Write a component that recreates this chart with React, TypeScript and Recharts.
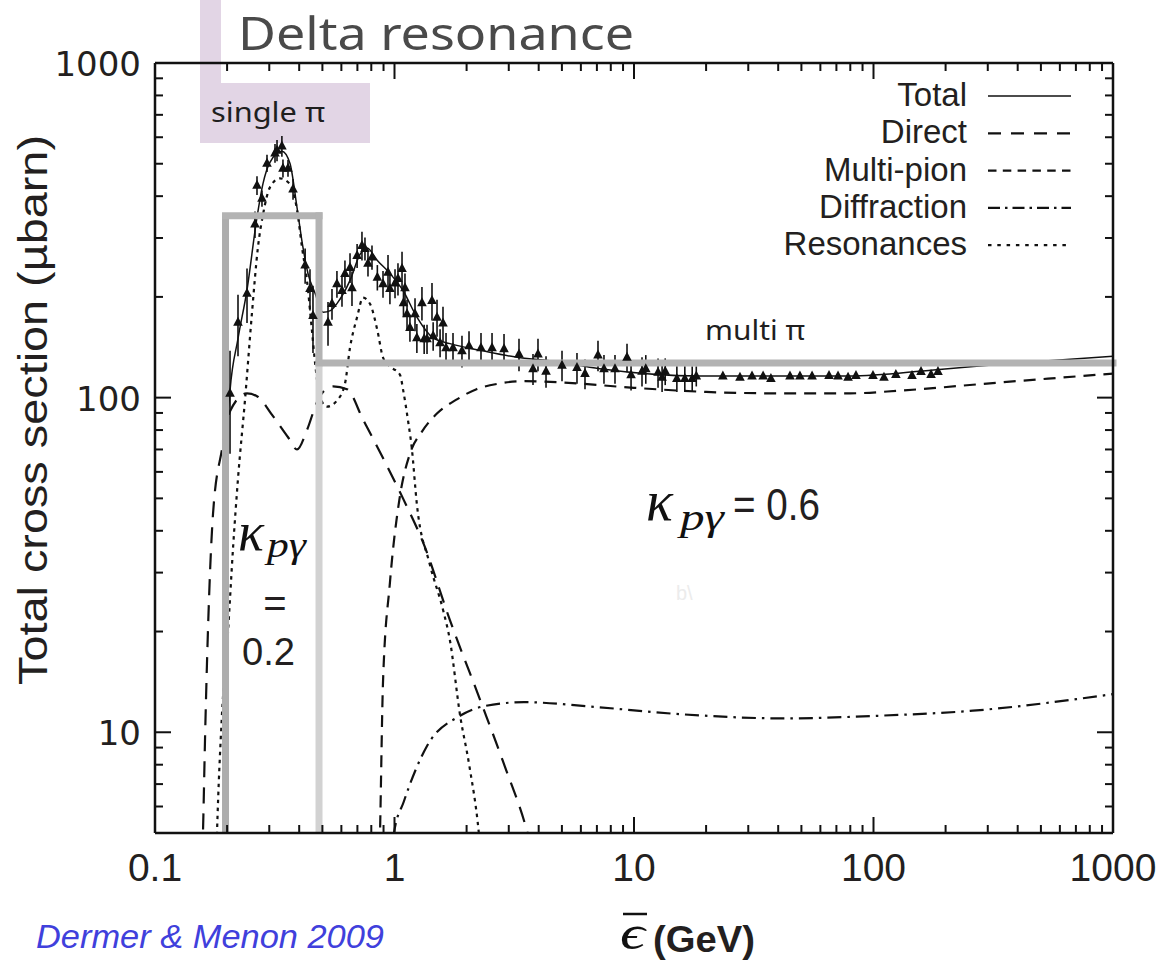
import React from "react";
import {
  ComposedChart,
  Line,
  Scatter,
  ErrorBar,
  XAxis,
  YAxis,
  ReferenceLine,
  Legend,
} from "recharts";

// photon energy in the proton rest frame (GeV) vs cross section (µbarn)
const totalCurve: [number, number][] = [
  [0.198, 70], [0.2057, 105], [0.2221, 150], [0.2422, 210], [0.2666, 346],
  [0.2826, 437], [0.302, 505], [0.3387, 545], [0.3659, 502], [0.3917, 370],
  [0.4148, 281], [0.4353, 235], [0.466, 205], [0.503, 180], [0.54, 182],
  [0.575, 191], [0.652, 224], [0.718, 268], [0.768, 280], [0.848, 257],
  [0.957, 235], [1.085, 209], [1.24, 174], [1.446, 151], [1.705, 145],
  [2.34, 138], [3.25, 132], [4.45, 129], [7.2, 122], [18.9, 116],
  [79.5, 116], [178, 121], [395, 127], [1000, 133],
];

const directCurve: [number, number][] = [
  [0.155, 3], [0.1586, 5], [0.162, 10], [0.1648, 16], [0.1747, 45],
  [0.1904, 70], [0.2057, 91], [0.2422, 103], [0.2666, 101], [0.311, 88],
  [0.36, 76], [0.3917, 70], [0.431, 80], [0.4748, 97], [0.503, 104],
  [0.554, 108], [0.6335, 106], [0.739, 86], [0.8954, 66], [1.085, 50],
  [1.315, 37], [1.705, 21.6], [2.297, 12.3], [2.89, 7.9], [3.54, 5.2], [3.8, 4.3],
];

const multiPionCurve: [number, number][] = [
  [0.855, 3], [0.87, 5], [0.895, 14], [0.957, 28], [1.05, 50], [1.16, 68],
  [1.3, 79], [1.5, 89.5], [1.83, 99], [2.2, 106], [2.7, 110], [3.5, 112],
  [5, 111], [10, 107], [20, 104], [40, 103], [80, 103], [130, 105],
  [337, 111], [1000, 118],
];

const diffractionCurve: [number, number][] = [
  [0.98, 4], [0.995, 5], [1.093, 6.2], [1.367, 9.1], [1.877, 11.2],
  [2.41, 12.0], [3.47, 12.3], [6.88, 11.9], [16.3, 11.3], [42.3, 11.0],
  [104, 11.2], [260, 11.6], [1000, 13.0],
];

const resonanceCurve: [number, number][] = [
  [0.178, 3], [0.1815, 5], [0.19, 11], [0.2018, 20], [0.212, 36],
  [0.222, 57], [0.238, 100], [0.254, 179], [0.269, 281], [0.283, 355],
  [0.302, 425], [0.332, 452], [0.366, 435], [0.392, 363], [0.411, 281],
  [0.431, 224], [0.452, 159], [0.466, 127], [0.489, 100], [0.523, 94],
  [0.575, 98], [0.621, 110], [0.652, 141], [0.698, 174], [0.739, 199],
  [0.792, 190], [0.848, 159], [0.895, 132], [0.957, 124], [1.054, 117],
  [1.09, 104], [1.14, 85], [1.18, 71], [1.24, 48], [1.4, 32], [1.6, 23],
  [1.7, 19], [1.88, 11.2], [2.05, 8], [2.25, 5], [2.35, 3.5],
];

// measured total cross section: energy, value, error
const measured: [number, number, number][] = [
  [0.2057, 103, 35], [0.2221, 168, 35], [0.2422, 205, 38], [0.2615, 330, 30],
  [0.2666, 431, 28], [0.2797, 394, 22], [0.2935, 502, 30], [0.317, 538, 35],
  [0.3232, 549, 40], [0.3387, 565, 40], [0.3422, 485, 30], [0.3592, 485, 28],
  [0.377, 420, 30], [0.4235, 249, 30], [0.4437, 212, 30], [0.4567, 176, 40],
  [0.5277, 168, 25], [0.5483, 191, 20], [0.575, 219, 20], [0.6036, 209, 22],
  [0.621, 235, 22], [0.652, 245, 25], [0.6645, 213, 25], [0.698, 266, 22],
  [0.7314, 285, 28], [0.7528, 279, 22], [0.775, 252, 22], [0.8054, 263, 22],
  [0.848, 229, 20], [0.8954, 219, 20], [0.9395, 237, 30], [0.957, 212, 22],
  [1.005, 220, 22], [1.034, 227, 25], [1.075, 243, 30], [1.106, 213, 22],
  [1.09, 192, 18], [1.128, 178, 18], [1.16, 162, 15], [1.218, 178, 20],
  [1.24, 151, 15], [1.302, 192, 22], [1.33, 150, 15], [1.367, 150, 15],
  [1.434, 195, 25], [1.45, 153, 15], [1.505, 174, 22], [1.55, 146, 14],
  [1.594, 167, 20], [1.641, 141, 15], [1.755, 141, 15], [1.913, 138, 15],
  [2.047, 143, 15], [2.297, 141, 15], [2.554, 141, 15], [2.866, 140, 15],
  [3.31, 135, 15], [3.787, 122, 13], [3.973, 135, 15], [4.292, 120, 13],
  [5.005, 125, 13], [5.78, 123, 13], [6.243, 118, 12], [7.074, 134, 14],
  [7.493, 122, 12], [8.33, 122, 12], [9.35, 132, 13], [9.72, 117, 12],
  [10.8, 120, 12], [11.2, 122, 12], [12.6, 119, 12], [13.1, 115, 11],
  [13.5, 120, 11], [15.1, 114, 10], [16.3, 114, 10], [17.5, 114, 10],
  [18.2, 116, 8], [23.5, 116, 0], [27.7, 115, 0], [31.1, 116, 0],
  [34.6, 116, 0], [37.3, 114, 0], [44.8, 116, 0], [49.3, 116, 0],
  [55.4, 116, 0], [65.2, 116.4, 0], [71.1, 116, 0], [78.3, 115, 0],
  [84.5, 116.4, 0], [99.5, 116.4, 0], [110.6, 115, 0], [124, 117.2, 0],
  [144.8, 116.4, 0], [157.9, 119.6, 0], [173.9, 117.2, 0], [185.9, 119.6, 0],
];

const xMajor = [0.1, 1, 10, 100, 1000];
const xMinor = [
  0.2, 0.3, 0.4, 0.5, 0.6, 0.7, 0.8, 0.9, 2, 3, 4, 5, 6, 7, 8, 9,
  20, 30, 40, 50, 60, 70, 80, 90, 200, 300, 400, 500, 600, 700, 800, 900,
];
const yMajor = [10, 100, 1000];
const yMinor = [
  6, 7, 8, 9, 20, 30, 40, 50, 60, 70, 80, 90, 200, 300, 400, 500, 600, 700, 800, 900,
];

// gray boxes drawn over the plot (energy, cross section)
const deltaBox = { xLo: 0.197, xHi: 0.484, yTop: 349.5 };
const multiLevel = 126.9;

const W = 1159;
const H = 961;
const INK = "#231f20";
const SANS = "'Liberation Sans', Arial, sans-serif";
const SERIF = "'Liberation Serif', 'DejaVu Serif', serif";

const lineStyles: Record<string, { width: number; dash?: string; keyDash?: string }> = {
  Total: { width: 1.5 },
  Direct: { width: 2.2, dash: "16 10", keyDash: "13 10" },
  "Multi-pion": { width: 2.2, dash: "12 8", keyDash: "8.5 6.3" },
  Diffraction: { width: 2.2, dash: "14 6 2.5 6", keyDash: "12 5 2.5 5" },
  Resonances: { width: 2.2, dash: "3.5 4.5", keyDash: "3.5 5.8" },
};
const legendOrder = ["Total", "Direct", "Multi-pion", "Diffraction", "Resonances"];

const toPts = (arr: [number, number][]) => arr.map(([x, y]) => ({ x, y }));
const curves: { name: string; data: { x: number; y: number }[] }[] = [
  { name: "Total", data: toPts(totalCurve) },
  { name: "Direct", data: toPts(directCurve) },
  { name: "Multi-pion", data: toPts(multiPionCurve) },
  { name: "Diffraction", data: toPts(diffractionCurve) },
  { name: "Resonances", data: toPts(resonanceCurve) },
];
const pointData = measured.map(([x, y, err]) => ({ x, y, err }));

const xTicks = [...xMajor, ...xMinor].sort((a, b) => a - b);
const yTicks = [...yMajor, ...yMinor].sort((a, b) => a - b);

function BottomTick(props: any) {
  const { x, y, payload } = props;
  const major = xMajor.includes(payload.value);
  return (
    <g>
      <line x1={x} x2={x} y1={y} y2={y - (major ? 16 : 8)} stroke="#111" strokeWidth={2} />
      {major && (
        <text x={x} y={y + 48} textAnchor="middle" fontSize={39} fontFamily={SANS} fill={INK}>
          {String(payload.value)}
        </text>
      )}
    </g>
  );
}

function TopTick(props: any) {
  const { x, y, payload } = props;
  const major = xMajor.includes(payload.value);
  return <line x1={x} x2={x} y1={y} y2={y + (major ? 16 : 8)} stroke="#111" strokeWidth={2} />;
}

function LeftTick(props: any) {
  const { x, y, payload } = props;
  const major = yMajor.includes(payload.value);
  return (
    <g>
      <line x1={x} x2={x + (major ? 16 : 8)} y1={y} y2={y} stroke="#111" strokeWidth={2} />
      {major && (
        <text x={x - 14} y={y + 13} textAnchor="end" fontSize={34} fontFamily="'DejaVu Sans', sans-serif" fill={INK}>
          {String(payload.value)}
        </text>
      )}
    </g>
  );
}

function RightTick(props: any) {
  const { x, y, payload } = props;
  const major = yMajor.includes(payload.value);
  return <line x1={x} x2={x - (major ? 16 : 8)} y1={y} y2={y} stroke="#111" strokeWidth={2} />;
}

function Triangle(props: any) {
  const { cx, cy } = props;
  if (cx == null || cy == null) return null;
  return <path d={`M${cx},${cy - 5.5} L${cx + 4.8},${cy + 3.5} L${cx - 4.8},${cy + 3.5} Z`} fill="#111" />;
}

function LegendBox(props: any) {
  const names: string[] = (props.payload || [])
    .map((p: any) => p.value)
    .filter((n: string) => lineStyles[n]);
  const ordered = legendOrder.filter((n) => names.includes(n));
  return (
    <svg width={W} height={280} style={{ display: "block" }}>
      {ordered.map((n, i) => {
        const base = 106 + i * 37.3;
        const st = lineStyles[n];
        return (
          <g key={n}>
            <text x={967} y={base} textAnchor="end" fontSize={33} fontFamily={SANS} fill={INK}>
              {n}
            </text>
            <line x1={988} x2={1071} y1={base - 10} y2={base - 10} stroke="#111" strokeWidth={st.width} strokeDasharray={st.keyDash} />
          </g>
        );
      })}
    </svg>
  );
}

const axisLine = { stroke: "#111", strokeWidth: 2.5 };

export default function App() {
  return (
    <div style={{ position: "absolute", left: 0, top: 0, width: W, height: H, background: "#fff", overflow: "hidden" }}>
      {/* lavender tag behind the plot */}
      <div style={{ position: "absolute", left: 200, top: 0, width: 21, height: 83, background: "#e2d5e5" }} />
      <div style={{ position: "absolute", left: 200, top: 83, width: 170, height: 60, background: "#e2d5e5" }} />

      <div style={{ position: "absolute", left: 0, top: 0 }}>
        <ComposedChart width={W} height={H} margin={{ top: 62, right: 45, bottom: 127, left: 154 }}>
          <XAxis
            xAxisId="bottom"
            dataKey="x"
            type="number"
            scale="log"
            domain={[0.1, 1000]}
            allowDataOverflow
            ticks={xTicks}
            interval={0}
            height={1}
            tickSize={0}
            tickMargin={0}
            tickLine={false}
            tick={BottomTick}
            axisLine={axisLine}
          />
          <XAxis
            xAxisId="top"
            orientation="top"
            dataKey="x"
            type="number"
            scale="log"
            domain={[0.1, 1000]}
            allowDataOverflow
            ticks={xTicks}
            interval={0}
            height={1}
            tickSize={0}
            tickMargin={0}
            tickLine={false}
            tick={TopTick}
            axisLine={axisLine}
          />
          <YAxis
            yAxisId="left"
            dataKey="y"
            type="number"
            scale="log"
            domain={[5, 1000]}
            allowDataOverflow
            ticks={yTicks}
            interval={0}
            width={1}
            tickSize={0}
            tickMargin={0}
            tickLine={false}
            tick={LeftTick}
            axisLine={axisLine}
          />
          <YAxis
            yAxisId="right"
            orientation="right"
            dataKey="y"
            type="number"
            scale="log"
            domain={[5, 1000]}
            allowDataOverflow
            ticks={yTicks}
            interval={0}
            width={1}
            tickSize={0}
            tickMargin={0}
            tickLine={false}
            tick={RightTick}
            axisLine={axisLine}
          />

          <Scatter
            xAxisId="bottom"
            yAxisId="left"
            name="data"
            data={pointData}
            dataKey="y"
            legendType="none"
            shape={Triangle}
            isAnimationActive={false}
          >
            <ErrorBar dataKey="err" direction="y" width={0} stroke="#111" strokeWidth={1.6} />
          </Scatter>

          {/* keeps the top and right frame axes tied to the same data */}
          <Line
            xAxisId="top"
            yAxisId="right"
            data={toPts(totalCurve)}
            dataKey="y"
            legendType="none"
            stroke="none"
            dot={false}
            activeDot={false}
            isAnimationActive={false}
          />

          {curves.map((c) => (
            <Line
              key={c.name}
              xAxisId="bottom"
              yAxisId="left"
              name={c.name}
              data={c.data}
              dataKey="y"
              type="monotone"
              stroke="#111"
              strokeWidth={lineStyles[c.name].width}
              strokeDasharray={lineStyles[c.name].dash}
              dot={false}
              activeDot={false}
              isAnimationActive={false}
            />
          ))}

          <ReferenceLine
            xAxisId="bottom"
            yAxisId="left"
            segment={[{ x: deltaBox.xLo, y: 5 }, { x: deltaBox.xLo, y: deltaBox.yTop }]}
            stroke="#adadad"
            strokeWidth={7}
          />
          <ReferenceLine
            xAxisId="bottom"
            yAxisId="left"
            segment={[{ x: deltaBox.xLo, y: deltaBox.yTop }, { x: deltaBox.xHi, y: deltaBox.yTop }]}
            stroke="#b3b3b3"
            strokeWidth={7}
            strokeLinecap="square"
          />
          <ReferenceLine
            xAxisId="bottom"
            yAxisId="left"
            segment={[{ x: deltaBox.xHi, y: deltaBox.yTop }, { x: deltaBox.xHi, y: multiLevel }]}
            stroke="#b3b3b3"
            strokeWidth={7}
            strokeLinecap="square"
          />
          <ReferenceLine
            xAxisId="bottom"
            yAxisId="left"
            segment={[{ x: deltaBox.xHi, y: multiLevel }, { x: deltaBox.xHi, y: 5 }]}
            stroke="#d2d2d2"
            strokeWidth={7}
          />
          <ReferenceLine
            xAxisId="bottom"
            yAxisId="left"
            segment={[{ x: deltaBox.xHi, y: multiLevel }, { x: 1000, y: multiLevel }]}
            stroke="#b3b3b3"
            strokeWidth={7}
            strokeLinecap="square"
          />

          <Legend
            layout="vertical"
            align="center"
            verticalAlign="middle"
            wrapperStyle={{ left: 0, top: 0, width: W, height: 280, pointerEvents: "none" }}
            content={LegendBox}
          />
        </ComposedChart>
      </div>

      {/* slide annotations and axis titles */}
      <svg width={W} height={H} style={{ position: "absolute", left: 0, top: 0, pointerEvents: "none" }}>
        <text x={238} y={50} fontSize={46} fill="#4a4a4a" fontFamily="'Noto Sans', 'Open Sans', sans-serif" textLength={396} lengthAdjust="spacingAndGlyphs">
          Delta resonance
        </text>
        <text x={211} y={122} fontSize={28} fill="#1f1f1f" fontFamily="'Noto Sans', 'Open Sans', sans-serif" textLength={114} lengthAdjust="spacingAndGlyphs">
          single π
        </text>
        <text x={705} y={340} fontSize={28} fill="#1f1f1f" fontFamily="'Noto Sans', 'Open Sans', sans-serif" textLength={100} lengthAdjust="spacingAndGlyphs">
          multi π
        </text>

        <text x={646} y={520} fontSize={56} fontStyle="italic" fontFamily={SERIF} fill="#111">κ</text>
        <text x={680} y={530} fontSize={38} fontStyle="italic" fontFamily={SERIF} fill="#111" textLength={44} lengthAdjust="spacingAndGlyphs">pγ</text>
        <text x={733} y={520} fontSize={44} fontFamily={SANS} fill={INK} textLength={87} lengthAdjust="spacingAndGlyphs">= 0.6</text>
        <text x={676} y={600} fontSize={20} fontFamily={SANS} fill="#ececec">b\</text>

        <text x={238} y={550} fontSize={54} fontStyle="italic" fontFamily={SERIF} fill="#111">κ</text>
        <text x={267} y={557} fontSize={36} fontStyle="italic" fontFamily={SERIF} fill="#111" textLength={39} lengthAdjust="spacingAndGlyphs">pγ</text>
        <text x={275} y={617} fontSize={40} textAnchor="middle" fontFamily={SANS} fill={INK}>=</text>
        <text x={242} y={665} fontSize={39} fontFamily={SANS} fill={INK} textLength={53} lengthAdjust="spacingAndGlyphs">0.2</text>

        <text
          transform="rotate(-90)"
          x={-410}
          y={47}
          textAnchor="middle"
          fontSize={40}
          fontFamily={SANS}
          fill={INK}
          textLength={550}
          lengthAdjust="spacingAndGlyphs"
        >
          Total cross section (µbarn)
        </text>

        <line x1={623} x2={647} y1={914} y2={914} stroke="#111" strokeWidth={2.5} />
        <text x={620} y={949} fontSize={48} fontStyle="italic" fontFamily={SERIF} fill="#111" textLength={25} lengthAdjust="spacingAndGlyphs">ϵ</text>
        <text x={653} y={952} fontSize={37} fontWeight="bold" fontFamily={SANS} fill={INK} textLength={102} lengthAdjust="spacingAndGlyphs">
          (GeV)
        </text>

        <text x={36} y={948} fontSize={33} fontStyle="italic" fontFamily={SANS} fill="#4040dc" textLength={348} lengthAdjust="spacingAndGlyphs">
          Dermer &amp; Menon 2009
        </text>
      </svg>
    </div>
  );
}
